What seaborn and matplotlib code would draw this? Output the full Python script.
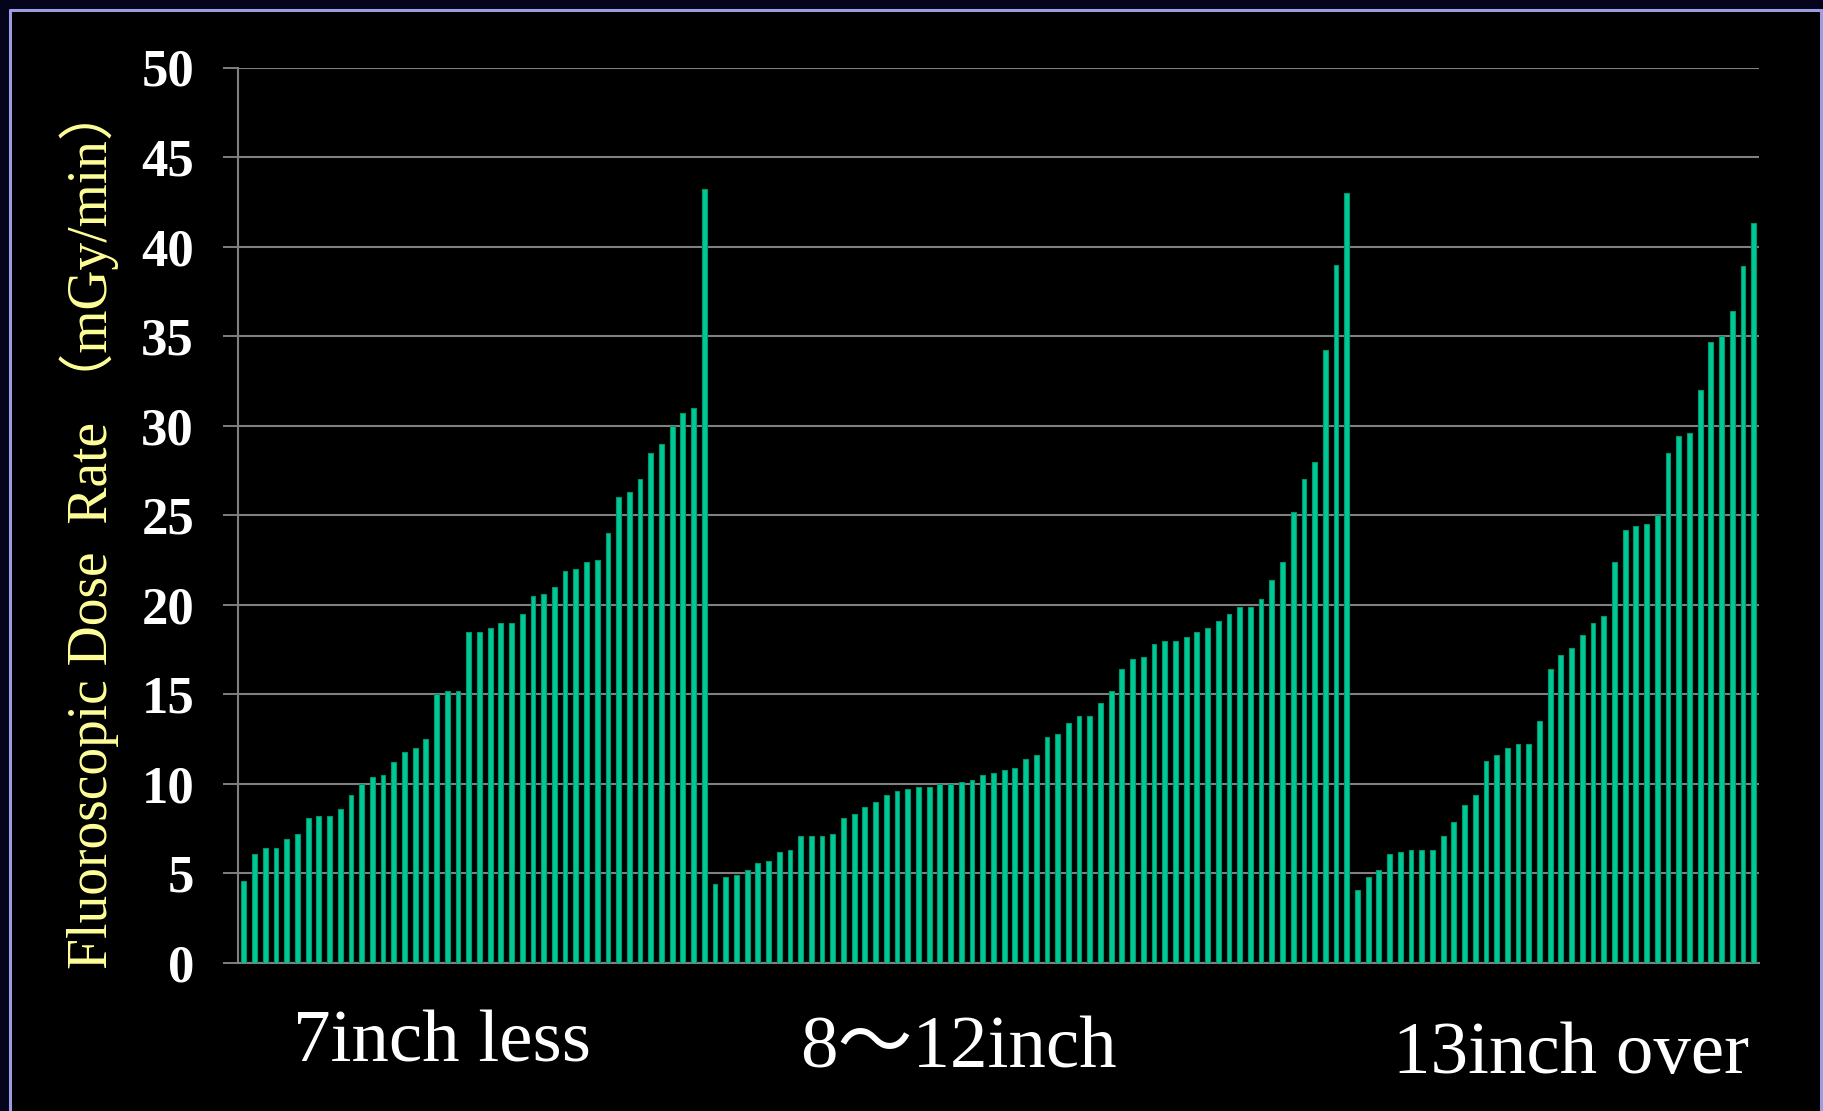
import pandas as pd
import matplotlib
matplotlib.use("Agg")
import matplotlib.pyplot as plt
from matplotlib.patches import Rectangle
from matplotlib.lines import Line2D
import seaborn as sns

# Dose rate per case (mGy/min), sorted within each patient-size group
rate_7inch_less = [4.6, 6.1, 6.4, 6.4, 6.9, 7.2, 8.1, 8.2, 8.2, 8.6, 9.4, 10.0,
                   10.4, 10.5, 11.2, 11.8, 12.0, 12.5, 15.0, 15.2, 15.2, 18.5,
                   18.5, 18.7, 19.0, 19.0, 19.5, 20.5, 20.6, 21.0, 21.9, 22.0,
                   22.4, 22.5, 24.0, 26.0, 26.3, 27.0, 28.5, 29.0, 30.0, 30.7,
                   31.0, 43.2]
rate_8_12inch = [4.4, 4.8, 4.9, 5.2, 5.6, 5.7, 6.2, 6.3, 7.1, 7.1, 7.1, 7.2,
                 8.1, 8.3, 8.7, 9.0, 9.4, 9.6, 9.7, 9.8, 9.8, 10.0, 10.0, 10.1,
                 10.2, 10.5, 10.6, 10.8, 10.9, 11.4, 11.6, 12.6, 12.8, 13.4,
                 13.8, 13.8, 14.5, 15.2, 16.4, 17.0, 17.1, 17.8, 18.0, 18.0,
                 18.2, 18.5, 18.7, 19.1, 19.5, 19.9, 19.9, 20.3, 21.4, 22.4,
                 25.2, 27.0, 28.0, 34.2, 39.0, 43.0]
rate_13inch_over = [4.1, 4.8, 5.2, 6.1, 6.2, 6.3, 6.3, 6.3, 7.1, 7.9, 8.8, 9.4,
                    11.3, 11.6, 12.0, 12.2, 12.2, 13.5, 16.4, 17.2, 17.6, 18.3,
                    19.0, 19.4, 22.4, 24.2, 24.4, 24.5, 25.0, 28.5, 29.4, 29.6,
                    32.0, 34.7, 35.0, 36.4, 38.9, 41.3]

group_labels = ["7inch less", "8\uff5e12inch", "13inch over"]
y_ticks = [0, 5, 10, 15, 20, 25, 30, 35, 40, 45, 50]
y_label = "Fluoroscopic Dose  Rate \uff08mGy/min\uff09"

all_rates = rate_7inch_less + rate_8_12inch + rate_13inch_over
groups = ([group_labels[0]] * len(rate_7inch_less) + [group_labels[1]] * len(rate_8_12inch)
          + [group_labels[2]] * len(rate_13inch_over))
df = pd.DataFrame({"case": range(len(all_rates)), "rate": all_rates, "group": groups})

sns.set_theme(style="white", rc={"axes.facecolor": "black", "figure.facecolor": "#04041c"})
plt.rcParams["font.family"] = ["Liberation Serif", "Noto Sans CJK JP", "DejaVu Sans"]

fig = plt.figure(figsize=(18.24, 11.11), dpi=100)
W, H = 1824, 1111

# slide background: navy frame, black panel with a lavender rule
fig.patches.append(Rectangle((10 / W, 0), 1 - 10 / W, 1 - 10 / H, transform=fig.transFigure,
                             facecolor="black", edgecolor="none", zorder=-10))
line_kw = dict(transform=fig.transFigure, color="#9c9ce0", linewidth=2.2, zorder=-5)
fig.lines.append(Line2D([10 / W, 1], [1 - 10 / H, 1 - 10 / H], **line_kw))
fig.lines.append(Line2D([10 / W, 10 / W], [0, 1 - 10 / H], **line_kw))
fig.lines.append(Line2D([1821 / W, 1821 / W], [0, 1 - 10 / H], **line_kw))

ax = fig.add_axes([238.5 / W, 1 - 963 / H, (1759 - 238.5) / W, (963 - 67.5) / H])
ax.set_facecolor("black")

sns.barplot(data=df, x="case", y="rate", color="#00c996", saturation=1, width=0.45,
            edgecolor="#00966e", linewidth=0.8, errorbar=None, ax=ax, zorder=3)

ax.set_xlim(-0.5, len(all_rates) - 0.5)
ax.set_ylim(0, 50)
ax.set_yticks(y_ticks)
ax.set_yticklabels([str(t) for t in y_ticks], fontsize=38, fontweight="bold", color="white")
ax.set_xticks([])
ax.set_xlabel("")
ax.set_ylabel("")
ax.tick_params(axis="y", length=11, width=1.4, color="#808080", pad=21, left=True)
ax.yaxis.grid(True, color="#808080", linewidth=1.5, zorder=0)
ax.set_axisbelow(True)
for side in ["top", "right"]:
    ax.spines[side].set_visible(False)
for side in ["left", "bottom"]:
    ax.spines[side].set_color("#808080")
    ax.spines[side].set_linewidth(1.5)

fig.text(89.5 / W, 1 - 527 / H, y_label, rotation=90, ha="center", va="center",
         fontsize=40, color="#ffff99")

label_pos = [(442 / W, 1 - 1062 / H), (958 / W, 1 - 1068 / H), (1571.5 / W, 1 - 1072.5 / H)]
for text, (lx, ly) in zip(group_labels, label_pos):
    fig.text(lx, ly, text, ha="center", va="baseline", fontsize=54, color="white")

fig.savefig("out.png", dpi=100, facecolor=fig.get_facecolor())
